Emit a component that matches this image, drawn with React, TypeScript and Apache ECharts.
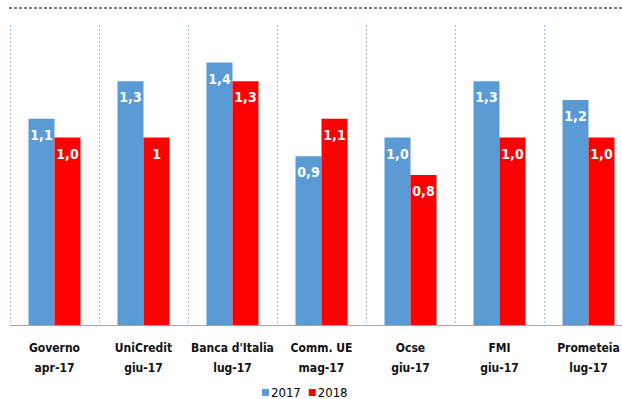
import React, { useEffect, useRef } from "react";
import * as echarts from "echarts";

const categories = [
  "Governo\napr-17",
  "UniCredit\ngiu-17",
  "Banca d'Italia\nlug-17",
  "Comm. UE\nmag-17",
  "Ocse\ngiu-17",
  "FMI\ngiu-17",
  "Prometeia\nlug-17",
];
const seriesNames = ["2017", "2018"];
const values2017 = [1.1, 1.3, 1.4, 0.9, 1.0, 1.3, 1.2];
const values2018 = [1.0, 1.0, 1.3, 1.1, 0.8, 1.0, 1.0];
const labels2017 = ["1,1", "1,3", "1,4", "0,9", "1,0", "1,3", "1,2"];
const labels2018 = ["1,0", "1", "1,3", "1,1", "0,8", "1,0", "1,0"];

const FONT = "'Liberation Sans Narrow', 'DejaVu Sans Condensed', Roboto, sans-serif";

export default function App() {
  const ref = useRef<HTMLDivElement>(null);
  useEffect(() => {
    const chart = echarts.init(ref.current!, null, { renderer: "svg" });
    const labelCfg = (labels: string[]) => ({
      show: true,
      position: "insideTop",
      distance: 9,
      color: "#fff",
      fontSize: 14,
      fontWeight: "bold",
      fontFamily: FONT,
      formatter: (p: any) => labels[p.dataIndex],
    });
    chart.setOption({
      animation: false,
      backgroundColor: "#fff",
      grid: { left: 10, top: 25, right: 0, bottom: 74 },
      legend: {
        data: seriesNames,
        left: 257,
        top: 381,
        itemWidth: 7,
        itemHeight: 7,
        itemGap: 8,
        icon: "rect",
        textStyle: { fontSize: 13, fontFamily: FONT, color: "#000", padding: [0, 0, 0, -3] },
      },
      xAxis: {
        type: "category",
        data: categories,
        axisLine: { lineStyle: { color: "#A6A6A6", width: 1 } },
        axisTick: { show: false },
        axisLabel: {
          interval: 0,
          margin: 13,
          fontSize: 12,
          fontWeight: "bold",
          lineHeight: 20,
          fontFamily: FONT,
          color: "#111",
        },
        splitLine: {
          show: true,
          interval: 0,
          lineStyle: { color: "#9DC3E6", type: [2, 2], width: 1 },
        },
      },
      yAxis: {
        type: "value",
        min: 0,
        max: 1.6,
        show: false,
        splitLine: { show: false },
      },
      series: [
        {
          name: seriesNames[0],
          type: "bar",
          data: values2017,
          barWidth: 26,
          barGap: 0,
          itemStyle: { color: "#5B9BD5" },
          label: labelCfg(labels2017),
        },
        {
          name: seriesNames[1],
          type: "bar",
          data: values2018,
          barWidth: 26,
          barGap: 0,
          itemStyle: { color: "#FF0000" },
          label: labelCfg(labels2018),
        },
      ],
      graphic: [
        {
          type: "line",
          shape: { x1: 9, y1: 8, x2: 622, y2: 8 },
          style: { stroke: "#000", lineWidth: 1, lineDash: [3, 2] },
        },
      ],
    });
    return () => chart.dispose();
  }, []);
  return <div ref={ref} style={{ width: 633, height: 399, position: "fixed", left: 0, top: 0 }} />;
}
